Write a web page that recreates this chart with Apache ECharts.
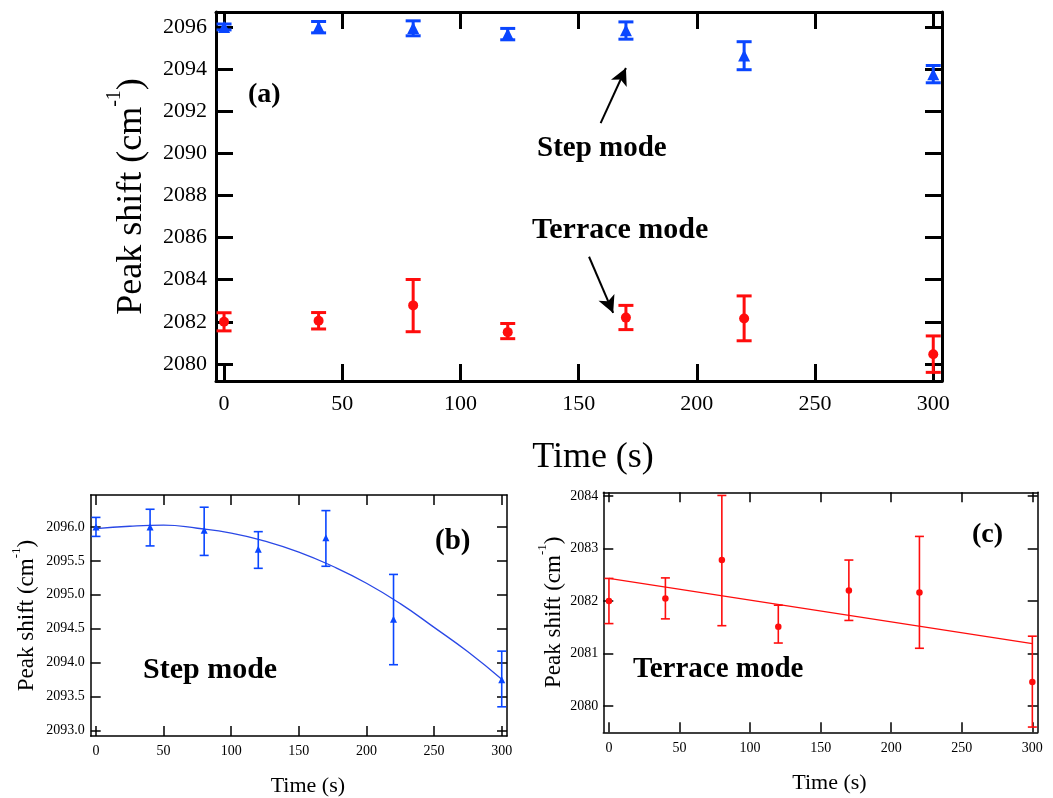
<!DOCTYPE html>
<html>
<head>
<meta charset="utf-8">
<script src="https://cdn.jsdelivr.net/npm/echarts@6/dist/echarts.min.js"></script>
<style>
  html, body { margin: 0; padding: 0; background: #fff; }
  #chart { width: 1053px; height: 798px; }
</style>
</head>
<body>
<div id="chart"></div>
<script>
// Measurement times (s)
const times = [0, 40, 80, 120, 170, 220, 300];

// Step-mode peak position (cm^-1) with error-bar limits
const stepShift = [2096.0, 2096.0, 2095.95, 2095.67, 2095.84, 2094.64, 2093.75];
const stepLow   = [2095.86, 2095.72, 2095.58, 2095.39, 2095.42, 2093.97, 2093.35];
const stepHigh  = [2096.14, 2096.26, 2096.29, 2095.93, 2096.24, 2095.30, 2094.17];

// Terrace-mode peak position (cm^-1) with error-bar limits
const terraceShift = [2082.0, 2082.05, 2082.78, 2081.51, 2082.20, 2082.16, 2080.46];
const terraceLow   = [2081.57, 2081.66, 2081.53, 2081.20, 2081.63, 2081.10, 2079.60];
const terraceHigh  = [2082.43, 2082.44, 2084.01, 2081.92, 2082.78, 2083.23, 2081.33];

// Quadratic fit to the step mode
const stepFitTime  = [0, 25, 50, 75, 100, 125, 150, 175, 200, 225, 250, 275, 300];
const stepFitShift = [2095.975, 2096.01, 2096.025, 2095.98, 2095.91, 2095.79, 2095.63, 2095.42, 2095.17, 2094.87, 2094.52, 2094.16, 2093.755];

// Linear fit to the terrace mode (end points)
const terraceFitTime  = [0, 300];
const terraceFitShift = [2082.43, 2081.19];

// Tick values
const timeTicks = [0, 50, 100, 150, 200, 250, 300];
const ticksA = [2080, 2082, 2084, 2086, 2088, 2090, 2092, 2094, 2096];
const ticksB = [2093.0, 2093.5, 2094.0, 2094.5, 2095.0, 2095.5, 2096.0];
const ticksC = [2080, 2081, 2082, 2083, 2084];

const BLUE = '#0a46ff';
const RED = '#ff0d0d';
const SERIF = '"Liberation Serif", "Times New Roman", serif';

const zip = (xs, ys) => xs.map((x, i) => [x, ys[i]]);
const zip3 = (xs, a, b) => xs.map((x, i) => [x, a[i], b[i]]);

const xAxes = [];
const yAxes = [];

function addFrame(grid, cfg) {
  const axisLine = { show: true, onZero: false, lineStyle: { color: '#000', width: cfg.lw } };
  const tick = (vals) => ({ show: true, inside: true, length: cfg.tickLen, customValues: vals,
                            lineStyle: { color: '#000', width: cfg.lw } });
  const labelStyle = { color: '#000', fontFamily: SERIF, fontSize: cfg.labelSize };
  const yName = '{t|Peak shift (cm}{s|-1}{t|)}';
  xAxes.push({
    type: 'value', gridIndex: grid, position: 'bottom', min: cfg.xMin, max: cfg.xMax,
    axisLine, axisTick: tick(timeTicks), splitLine: { show: false },
    axisLabel: Object.assign({ customValues: timeTicks, margin: cfg.xLabelMargin }, labelStyle),
    name: 'Time (s)', nameLocation: 'middle', nameGap: cfg.xNameGap,
    nameTextStyle: { color: '#000', fontFamily: SERIF, fontSize: cfg.xNameSize, padding: [0, 0, 0, cfg.xNameShift] }
  });
  xAxes.push({
    type: 'value', gridIndex: grid, position: 'top', min: cfg.xMin, max: cfg.xMax,
    axisLine, axisTick: tick(timeTicks), splitLine: { show: false }, axisLabel: { show: false }
  });
  yAxes.push({
    type: 'value', gridIndex: grid, position: 'left', min: cfg.yMin, max: cfg.yMax,
    axisLine, axisTick: tick(cfg.yTicks), splitLine: { show: false },
    axisLabel: Object.assign({ customValues: cfg.yTicks, margin: cfg.yLabelMargin, formatter: cfg.yFmt }, labelStyle),
    name: yName, nameLocation: 'middle', nameRotate: 90, nameGap: cfg.yNameGap,
    nameTextStyle: {
      rich: {
        t: { fontFamily: SERIF, fontSize: cfg.yNameSize, color: '#000', lineHeight: cfg.yNameLH, verticalAlign: 'bottom' },
        s: { fontFamily: SERIF, fontSize: cfg.supSize, color: '#000', lineHeight: cfg.supSize, verticalAlign: 'top' }
      }
    }
  });
  yAxes.push({
    type: 'value', gridIndex: grid, position: 'right', min: cfg.yMin, max: cfg.yMax,
    axisLine, axisTick: tick(cfg.yTicks), splitLine: { show: false }, axisLabel: { show: false }
  });
}

addFrame(0, { lw: 3, tickLen: 17, labelSize: 22, xMin: -3.4, xMax: 303.7, yMin: 2079.19, yMax: 2096.71,
  yTicks: ticksA, yFmt: (v) => String(v), xLabelMargin: 12, yLabelMargin: 9,
  xNameGap: 59, xNameSize: 36, xNameShift: 28, yNameGap: 66, yNameSize: 36, yNameLH: 45, supSize: 20 });
addFrame(1, { lw: 1.5, tickLen: 10, labelSize: 14, xMin: -3.9, xMax: 303.9, yMin: 2092.92, yMax: 2096.47,
  yTicks: ticksB, yFmt: (v) => v.toFixed(1), xLabelMargin: 8, yLabelMargin: 6,
  xNameGap: 39, xNameSize: 22, xNameShift: 18, yNameGap: 52, yNameSize: 23, yNameLH: 29, supSize: 13 });
addFrame(2, { lw: 1.5, tickLen: 10, labelSize: 14, xMin: -4.0, xMax: 303.8, yMin: 2079.5, yMax: 2084.07,
  yTicks: ticksC, yFmt: (v) => String(v), xLabelMargin: 9, yLabelMargin: 5,
  xNameGap: 40, xNameSize: 22, xNameShift: 18, yNameGap: 38, yNameSize: 23, yNameLH: 29, supSize: 13 });

// Error bars: vertical stem plus horizontal caps, placed through the axis scales
function errorBars(xi, yi, data, color, capHalf, width, z) {
  return {
    type: 'custom', xAxisIndex: xi, yAxisIndex: yi, data, z, clip: false,
    renderItem(params, api) {
      const x = api.value(0);
      const lo = api.coord([x, api.value(1)]);
      const hi = api.coord([x, api.value(2)]);
      const style = { stroke: color, lineWidth: width };
      return {
        type: 'group',
        children: [
          { type: 'line', shape: { x1: lo[0], y1: lo[1], x2: hi[0], y2: hi[1] }, style },
          { type: 'line', shape: { x1: lo[0] - capHalf, y1: lo[1], x2: lo[0] + capHalf, y2: lo[1] }, style },
          { type: 'line', shape: { x1: hi[0] - capHalf, y1: hi[1], x2: hi[0] + capHalf, y2: hi[1] }, style }
        ]
      };
    }
  };
}

function points(xi, yi, data, symbol, size, color) {
  return { type: 'scatter', xAxisIndex: xi, yAxisIndex: yi, data, symbol, symbolSize: size,
           itemStyle: { color, opacity: 1 }, z: 5, silent: true };
}

const arrowStyle = { color: '#000', width: 2, type: 'solid' };

const series = [
  // (a) both modes
  errorBars(0, 0, zip3(times, stepLow, stepHigh), BLUE, 7.5, 3, 3),
  Object.assign(points(0, 0, zip(times, stepShift), 'triangle', 12, BLUE), {
    markLine: {
      silent: true, symbol: ['none', 'arrow'], symbolSize: [13, 17], label: { show: false },
      lineStyle: arrowStyle, animation: false,
      data: [
        [{ coord: [159.3, 2091.43] }, { coord: [170.0, 2094.05] }],
        [{ coord: [154.4, 2085.09] }, { coord: [164.6, 2082.42] }]
      ]
    }
  }),
  errorBars(0, 0, zip3(times, terraceLow, terraceHigh), RED, 7.5, 3, 3),
  points(0, 0, zip(times, terraceShift), 'circle', 10, RED),

  // (b) step mode with fit
  { type: 'line', xAxisIndex: 2, yAxisIndex: 2, data: zip(stepFitTime, stepFitShift), smooth: true,
    showSymbol: false, lineStyle: { color: '#2a48e6', width: 1.3 }, z: 2, silent: true },
  errorBars(2, 2, zip3(times, stepLow, stepHigh), BLUE, 4.5, 1.6, 3),
  points(2, 2, zip(times, stepShift), 'triangle', 7, BLUE),

  // (c) terrace mode with fit
  { type: 'line', xAxisIndex: 4, yAxisIndex: 4, data: zip(terraceFitTime, terraceFitShift),
    showSymbol: false, lineStyle: { color: RED, width: 1.2 }, z: 2, silent: true },
  errorBars(4, 4, zip3(times, terraceLow, terraceHigh), RED, 4.5, 1.6, 3),
  points(4, 4, zip(times, terraceShift), 'circle', 6.5, RED)
];

function tag(text, x, y, size) {
  return { type: 'text', x, y, silent: true, z: 10,
           style: { text, fill: '#000', fontFamily: SERIF, fontWeight: 'bold', fontSize: size, verticalAlign: 'middle' } };
}

const chart = echarts.init(document.getElementById('chart'), null, { renderer: 'canvas' });
chart.setOption({
  animation: false,
  backgroundColor: '#fff',
  grid: [
    { left: 216, top: 12, width: 726, height: 369 },
    { left: 90.7, top: 495, width: 416.3, height: 241 },
    { left: 603.3, top: 492.3, width: 434.4, height: 240 }
  ],
  xAxis: xAxes,
  yAxis: yAxes,
  series,
  graphic: [
    tag('(a)', 248, 95, 28),
    tag('Step mode', 537, 149, 29),
    tag('Terrace mode', 532, 230, 30),
    tag('(b)', 435, 542, 29),
    tag('Step mode', 143, 670, 30),
    tag('(c)', 972, 535, 28),
    tag('Terrace mode', 633, 670, 29)
  ]
});
</script>
</body>
</html>
